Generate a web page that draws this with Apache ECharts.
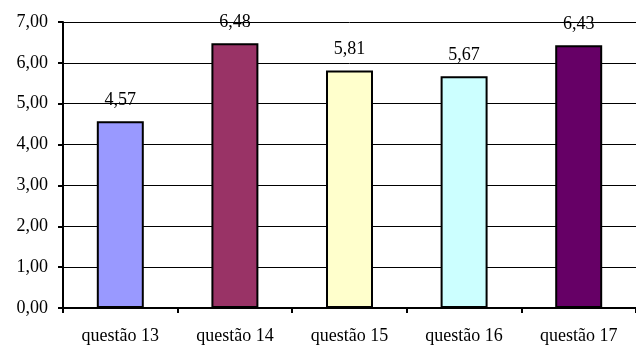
<!DOCTYPE html>
<html>
<head>
<meta charset="utf-8">
<script src="https://cdn.jsdelivr.net/npm/echarts@6/dist/echarts.min.js"></script>
<style>
  html, body { margin: 0; padding: 0; background: #fff; }
  #chart { width: 636px; height: 346px; }
</style>
</head>
<body>
<div id="chart"></div>
<script>
// Average score per question
const categories = ['questão 13', 'questão 14', 'questão 15', 'questão 16', 'questão 17'];
const values = [4.57, 6.48, 5.81, 5.67, 6.43];
const barColors = ['#9999FF', '#993366', '#FFFFCC', '#CCFFFF', '#660066'];
const yTicks = { min: 0, max: 7, interval: 1 };

const fmt = v => v.toFixed(2).replace('.', ',');
const font = 'Liberation Serif, Times New Roman, serif';

const chart = echarts.init(document.getElementById('chart'));
chart.setOption({
  animation: false,
  grid: { left: 63, right: -7, top: 22, bottom: 38 },
  xAxis: {
    type: 'category',
    data: categories,
    axisLine: { lineStyle: { color: '#000', width: 2 } },
    axisTick: { show: true, length: 5, lineStyle: { color: '#000', width: 2 } },
    axisLabel: { color: '#000', fontFamily: font, fontSize: 18, margin: 19, interval: 0 }
  },
  yAxis: {
    type: 'value',
    min: yTicks.min,
    max: yTicks.max,
    interval: yTicks.interval,
    axisLine: { show: true, lineStyle: { color: '#000', width: 2 } },
    axisTick: { show: true, length: 5, lineStyle: { color: '#000', width: 2 } },
    axisLabel: { color: '#000', fontFamily: font, fontSize: 18, margin: 15, formatter: fmt },
    splitLine: { show: true, lineStyle: { color: '#000', width: 1 } }
  },
  series: [{
    type: 'bar',
    barWidth: '41%',
    data: values.map((v, i) => ({
      value: v,
      itemStyle: { color: barColors[i], borderColor: '#000', borderWidth: 2 }
    })),
    label: {
      show: true,
      position: 'top',
      distance: 12,
      color: '#000',
      fontFamily: font,
      fontSize: 18,
      formatter: p => fmt(p.value)
    }
  }]
});
</script>
</body>
</html>
